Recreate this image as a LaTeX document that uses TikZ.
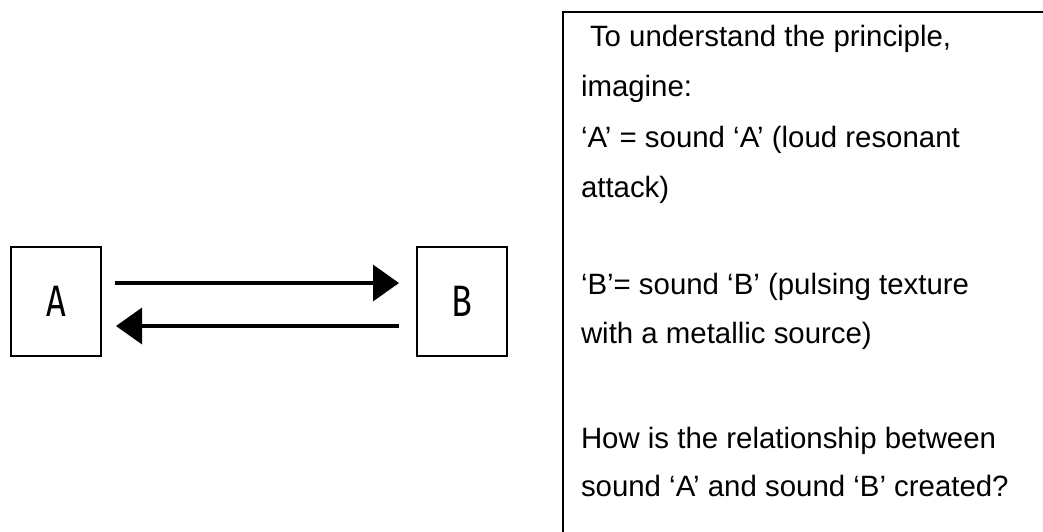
\documentclass[tikz,border=0pt]{standalone}
\usepackage{fontspec}
\setmainfont{Liberation Sans}
\newfontfamily\boxfont[FakeStretch=0.78]{Fira Sans}
\usetikzlibrary{arrows.meta}
\begin{document}
\begin{tikzpicture}[x=1pt,y=-1pt,
  soundbox/.style={draw, line width=1.8pt, minimum width=90pt, minimum height=109pt,
    inner sep=0pt, outer sep=0pt, font=\boxfont\fontsize{44}{44}\selectfont},
  flow/.style={line width=3.5pt, -{Triangle[length=26pt,width=36pt]}},
  note/.style={anchor=base west, inner sep=0pt, outer sep=0pt,
    font=\fontsize{29.4}{29.4}\selectfont}]
\useasboundingbox (0,0) rectangle (1043,531);
\clip (0,0) rectangle (1043,531);
\fill[white] (0,0) rectangle (1043,531);

% the two sounds and their exchange
\node[soundbox] (A) at (56,301.5) {A};
\node[soundbox] (B) at (462,301.5) {B};
\draw[flow, shorten <=14pt, shorten >=18pt]
  ([yshift=18.5pt]A.east) -- ([yshift=18.5pt]B.west);
\draw[flow, shorten <=18pt, shorten >=15pt]
  ([yshift=-24.5pt]B.west) -- ([yshift=-24.5pt]A.east);

% explanatory panel, running off the right and bottom edges
\node[draw, line width=1.8pt, anchor=north west, minimum width=600pt,
  minimum height=600pt, inner sep=0pt] (panel) at (562,11) {};
\node[note] (l1) at (590,46)    {To understand the principle,};
\node[note] (l2) at (581,96.6)  {imagine:};
\node[note] (l3) at (581,147.2) {‘A’ = sound ‘A’ (loud resonant};
\node[note] (l4) at (581,197.8) {attack)};
\node[note] (l5) at (581,294)   {‘B’= sound ‘B’ (pulsing texture};
\node[note] (l6) at (581,343)   {with a metallic source)};
\node[note] (l7) at (581,448)   {How is the relationship between};
\node[note] (l8) at (581,496)   {sound ‘A’ and sound ‘B’ created?};
\end{tikzpicture}
\end{document}
